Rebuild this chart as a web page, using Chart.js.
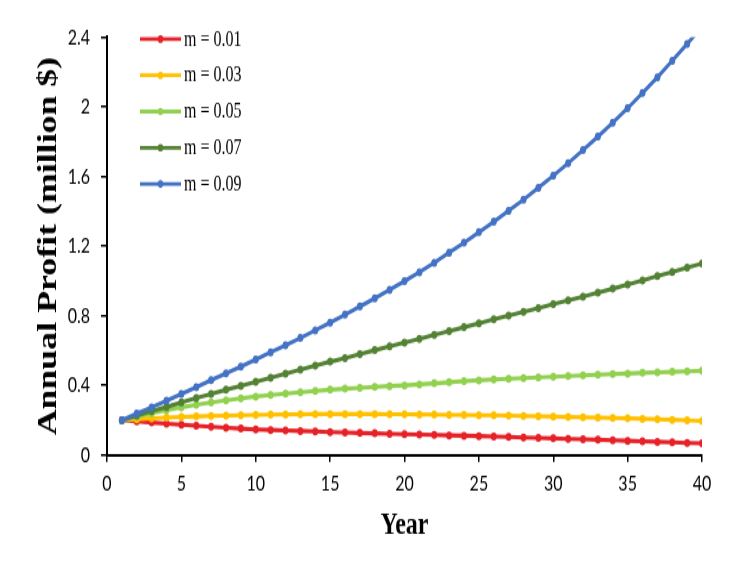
<!DOCTYPE html>
<html>
<head>
<meta charset="utf-8">
<script src="https://cdn.jsdelivr.net/npm/chart.js@4.4.1/dist/chart.umd.min.js"></script>
<style>
  html, body { margin: 0; padding: 0; background: #fff; }
  /* the original figure is stretched vertically: draw at 424px tall, show at 573px */
  #profitChart { display: block; }
</style>
</head>
<body>
<canvas id="profitChart" width="741" height="424" style="width:741px;height:573px"></canvas>
<script>
const years = [1, 2, 3, 4, 5, 6, 7, 8, 9, 10, 11, 12, 13, 14, 15, 16, 17, 18, 19, 20,
    21, 22, 23, 24, 25, 26, 27, 28, 29, 30, 31, 32, 33, 34, 35, 36, 37, 38, 39, 40];

const m001 = [0.200, 0.193, 0.187, 0.180, 0.174, 0.168, 0.162, 0.157, 0.152, 0.147,
    0.144, 0.141, 0.138, 0.135, 0.132, 0.130, 0.127, 0.125, 0.122, 0.120,
    0.118, 0.116, 0.113, 0.111, 0.109, 0.106, 0.104, 0.101, 0.099, 0.096,
    0.093, 0.091, 0.088, 0.085, 0.082, 0.079, 0.076, 0.073, 0.070, 0.067];
const m003 = [0.200, 0.206, 0.211, 0.215, 0.219, 0.222, 0.225, 0.227, 0.229, 0.231,
    0.232, 0.233, 0.234, 0.235, 0.235, 0.235, 0.235, 0.235, 0.234, 0.234,
    0.233, 0.232, 0.231, 0.230, 0.229, 0.228, 0.226, 0.225, 0.223, 0.221,
    0.219, 0.217, 0.215, 0.213, 0.211, 0.208, 0.205, 0.202, 0.199, 0.196];
const m005 = [0.200, 0.221, 0.240, 0.258, 0.274, 0.289, 0.302, 0.314, 0.326, 0.336,
    0.345, 0.353, 0.361, 0.368, 0.375, 0.381, 0.386, 0.391, 0.396, 0.400,
    0.406, 0.412, 0.418, 0.424, 0.429, 0.434, 0.438, 0.442, 0.446, 0.450,
    0.454, 0.457, 0.461, 0.465, 0.468, 0.472, 0.475, 0.478, 0.481, 0.484];
const m007 = [0.200, 0.226, 0.251, 0.276, 0.302, 0.327, 0.350, 0.375, 0.398, 0.421,
    0.444, 0.467, 0.490, 0.513, 0.536, 0.557, 0.580, 0.602, 0.624, 0.645,
    0.667, 0.690, 0.712, 0.734, 0.756, 0.779, 0.801, 0.822, 0.844, 0.866,
    0.888, 0.910, 0.932, 0.955, 0.979, 1.003, 1.027, 1.051, 1.076, 1.100];
const m009 = [0.200, 0.238, 0.274, 0.312, 0.350, 0.389, 0.430, 0.469, 0.508, 0.549,
    0.590, 0.630, 0.672, 0.716, 0.760, 0.806, 0.853, 0.900, 0.949, 0.999,
    1.050, 1.104, 1.162, 1.219, 1.279, 1.340, 1.403, 1.466, 1.535, 1.604,
    1.676, 1.751, 1.828, 1.908, 1.991, 2.079, 2.168, 2.264, 2.360, 2.460];

const seriesNames = ['m = 0.01', 'm = 0.03', 'm = 0.05', 'm = 0.07', 'm = 0.09'];
const seriesValues = [m001, m003, m005, m007, m009];
const seriesColors = ['#E52228', '#FFC000', '#92D050', '#548235', '#4472C4'];

const xTicks = [0, 5, 10, 15, 20, 25, 30, 35, 40];
const yTicks = [0, 0.4, 0.8, 1.2, 1.6, 2, 2.4];

const datasets = seriesValues.map((vals, i) => ({
    label: seriesNames[i],
    data: vals.map((v, j) => ({ x: years[j], y: v })),
    borderColor: seriesColors[i],
    backgroundColor: seriesColors[i],
    borderWidth: 3.1,
    pointRadius: 3,
    pointBorderWidth: 0,
    order: seriesValues.length - i
}));

// legend drawn inside the plot, top left, like the original
const insideLegend = {
    id: 'insideLegend',
    afterDatasetsDraw(chart) {
        const { ctx, chartArea } = chart;
        chart.data.datasets.forEach((ds, i) => {
            const y = chartArea.top + 1.5 + i * 26.8;
            const x0 = chartArea.left + 33;
            ctx.save();
            ctx.strokeStyle = ds.borderColor;
            ctx.lineWidth = 2.8;
            ctx.beginPath();
            ctx.moveTo(x0, y);
            ctx.lineTo(x0 + 41, y);
            ctx.stroke();
            ctx.fillStyle = ds.borderColor;
            ctx.beginPath();
            ctx.arc(x0 + 20.5, y, 2.8, 0, Math.PI * 2);
            ctx.fill();
            ctx.fillStyle = '#000';
            ctx.font = '16px "Liberation Serif", "Times New Roman", serif';
            ctx.textBaseline = 'middle';
            ctx.fillText(ds.label, x0 + 44, y + 0.5);
            ctx.restore();
        });
    }
};

const tickFont = { family: 'Lato, "Open Sans", sans-serif', size: 16 };

new Chart('profitChart', {
    type: 'line',
    data: { datasets },
    plugins: [insideLegend],
    options: {
        responsive: false,
        animation: false,
        layout: { padding: { top: 27.4, right: 39, left: 0, bottom: 0 } },
        plugins: { legend: { display: false }, tooltip: { enabled: false } },
        scales: {
            x: {
                type: 'linear',
                min: 0,
                max: 40,
                afterFit: scale => { scale.height = 87.3; },
                afterBuildTicks: scale => { scale.ticks = xTicks.map(v => ({ value: v })); },
                grid: { drawOnChartArea: false, drawTicks: true, tickLength: 5, color: '#000', lineWidth: 1.5 },
                border: { display: true, color: '#000', width: 2 },
                ticks: { color: '#000', font: tickFont, padding: 7, maxRotation: 0 },
                title: {
                    display: true,
                    text: 'Year',
                    color: '#000',
                    font: { family: '"Liberation Serif", "Times New Roman", serif', size: 24, weight: 'bold', lineHeight: 1 },
                    padding: { top: 0, bottom: 23 }
                }
            },
            y: {
                type: 'linear',
                min: 0,
                max: 2.4,
                afterFit: scale => { scale.width = 107; },
                afterBuildTicks: scale => { scale.ticks = yTicks.map(v => ({ value: v })); },
                grid: { drawOnChartArea: false, drawTicks: true, tickLength: 6, color: '#000', lineWidth: 1.5 },
                border: { display: true, color: '#000', width: 2 },
                ticks: {
                    color: '#000',
                    font: tickFont,
                    padding: 11,
                    callback: v => String(+v.toFixed(1))
                },
                title: {
                    display: true,
                    text: 'Annual Profit (million $)',
                    color: '#000',
                    font: { family: '"Liberation Serif", "Times New Roman", serif', size: 26.5, weight: 'bold', lineHeight: 1 },
                    padding: { top: 36, bottom: 0 }
                }
            }
        }
    }
});
</script>
</body>
</html>
